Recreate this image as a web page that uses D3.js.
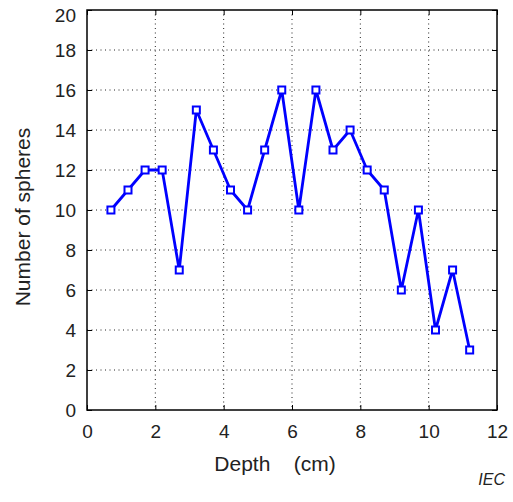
<!DOCTYPE html>
<html>
<head>
<meta charset="utf-8">
<script src="https://cdn.jsdelivr.net/npm/d3@7"></script>
<style>
  body { margin: 0; background: #fff; }
  svg text { font-family: "Liberation Sans", Arial, sans-serif; fill: #222; }
</style>
</head>
<body>
<div id="chart"></div>
<script>
// depth (cm) and sphere counts
var depth = [0.7, 1.2, 1.7, 2.2, 2.7, 3.2, 3.7, 4.2, 4.7, 5.2, 5.7, 6.2, 6.7, 7.2, 7.7, 8.2, 8.7, 9.2, 9.7, 10.2, 10.7, 11.2];
var spheres = [10, 11, 12, 12, 7, 15, 13, 11, 10, 13, 16, 10, 16, 13, 14, 12, 11, 6, 10, 4, 7, 3];
var xTicks = [0, 2, 4, 6, 8, 10, 12];
var yTicks = [0, 2, 4, 6, 8, 10, 12, 14, 16, 18, 20];

var data = depth.map(function(d, i) { return {x: d, y: spheres[i]}; });

var W = 513, H = 502;
var margin = {top: 10, right: 16, bottom: 92, left: 87},
    width = W - margin.left - margin.right,
    height = H - margin.top - margin.bottom;

var x = d3.scaleLinear().domain([0, 12]).range([0, width]);
var y = d3.scaleLinear().domain([0, 20]).range([height, 0]);

var svg = d3.select("#chart").append("svg")
    .attr("width", W)
    .attr("height", H)
  .append("g")
    .attr("transform", "translate(" + margin.left + "," + margin.top + ")");

// dotted grid
svg.selectAll(".vgrid")
    .data(xTicks.slice(1, -1))
  .enter().append("line")
    .attr("x1", function(d) { return x(d); })
    .attr("x2", function(d) { return x(d); })
    .attr("y1", 0).attr("y2", height)
    .attr("stroke", "#222").attr("stroke-width", 1)
    .attr("stroke-dasharray", "1,3.5");

svg.selectAll(".hgrid")
    .data(yTicks.slice(1, -1))
  .enter().append("line")
    .attr("x1", 0).attr("x2", width)
    .attr("y1", function(d) { return y(d); })
    .attr("y2", function(d) { return y(d); })
    .attr("stroke", "#222").attr("stroke-width", 1)
    .attr("stroke-dasharray", "1,3.5");

// axes (inward ticks, mirrored on top/right)
var tk = 5;
var xAxis = d3.axisBottom(x).tickValues(xTicks).tickSizeInner(-tk).tickSizeOuter(0).tickPadding(15);
var yAxis = d3.axisLeft(y).tickValues(yTicks).tickSizeInner(-tk).tickSizeOuter(0).tickPadding(11);

var gx = svg.append("g")
    .attr("transform", "translate(0," + height + ")")
    .call(xAxis);
var gy = svg.append("g").call(yAxis);

svg.append("g")
    .call(d3.axisTop(x).tickValues(xTicks).tickSizeInner(-tk).tickSizeOuter(0).tickFormat(""));
svg.append("g")
    .attr("transform", "translate(" + width + ",0)")
    .call(d3.axisRight(y).tickValues(yTicks).tickSizeInner(-tk).tickSizeOuter(0).tickFormat(""));

svg.selectAll(".domain").remove();
svg.selectAll(".tick line").attr("stroke", "#000");
gx.selectAll("text").style("font-size", "19px").attr("fill", "#222");
gy.selectAll("text").style("font-size", "19px").attr("fill", "#222")
    .attr("dy", function(d) { return d == 20 ? "0.6em" : "0.35em"; });

svg.append("rect")
    .attr("width", width).attr("height", height)
    .attr("fill", "none").attr("stroke", "#000").attr("stroke-width", 1.5);

// series
var line = d3.line()
    .x(function(d) { return x(d.x); })
    .y(function(d) { return y(d.y); });

svg.append("path")
    .datum(data)
    .attr("d", line)
    .attr("fill", "none")
    .attr("stroke", "#0000ff")
    .attr("stroke-width", 2.8)
    .attr("stroke-linejoin", "round");

svg.selectAll(".pt")
    .data(data)
  .enter().append("rect")
    .attr("x", function(d) { return x(d.x) - 3.5; })
    .attr("y", function(d) { return y(d.y) - 3.5; })
    .attr("width", 7).attr("height", 7)
    .attr("fill", "#fff")
    .attr("stroke", "#0000ff")
    .attr("stroke-width", 2);

// labels
svg.append("text")
    .attr("x", width / 2 - 17)
    .attr("y", height + 61)
    .style("text-anchor", "middle")
    .style("font-size", "21px")
    .style("white-space", "pre")
    .text("Depth    (cm)");

svg.append("text")
    .attr("transform", "rotate(-90)")
    .attr("x", -height / 2 - 7)
    .attr("y", -57)
    .style("text-anchor", "middle")
    .style("font-size", "21px")
    .text("Number of spheres");

svg.append("text")
    .attr("x", width + 8)
    .attr("y", height + 75)
    .style("text-anchor", "end")
    .style("font-size", "16px")
    .style("font-style", "italic")
    .text("IEC");
</script>
</body>
</html>
